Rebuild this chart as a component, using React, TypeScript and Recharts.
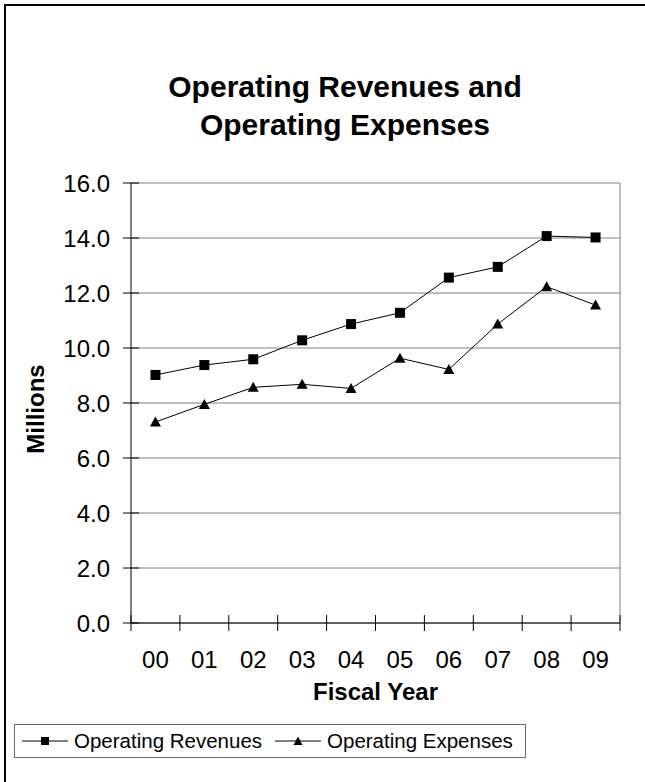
import React from 'react';
import { LineChart, Line, XAxis, YAxis, CartesianGrid, ReferenceLine, Legend } from 'recharts';

const years = ['00', '01', '02', '03', '04', '05', '06', '07', '08', '09'];
const revenues = [9.02, 9.38, 9.59, 10.28, 10.87, 11.28, 12.56, 12.95, 14.07, 14.02];
const expenses = [7.31, 7.95, 8.57, 8.68, 8.53, 9.63, 9.22, 10.87, 12.23, 11.56];
const yTicks = [0, 2, 4, 6, 8, 10, 12, 14, 16];

const FONT = 'Arial, "Liberation Sans", Helvetica, sans-serif';

// x sits in the middle of each category slot so tick marks can go on the slot edges
const data = years.map((year, i) => ({ x: i + 0.5, year, rev: revenues[i], exp: expenses[i] }));
const xTicks: number[] = [];
for (let i = 0; i <= years.length; i++) {
  xTicks.push(i);
  if (i < years.length) xTicks.push(i + 0.5);
}

const Square = (props: any) => {
  const { cx, cy, key } = props;
  if (cx == null || cy == null) return <g key={key} />;
  return <rect key={key} x={cx - 5} y={cy - 5} width={10} height={10} fill="#000" />;
};

const Triangle = (props: any) => {
  const { cx, cy, key } = props;
  if (cx == null || cy == null) return <g key={key} />;
  return <path key={key} d={`M${cx},${cy - 5.5} L${cx + 5.5},${cy + 4.5} L${cx - 5.5},${cy + 4.5} Z`} fill="#000" />;
};

const XTick = (props: any) => {
  const { x, y, payload } = props;
  const v = payload.value;
  if (Number.isInteger(v)) {
    return <line x1={x} x2={x} y1={y - 8} y2={y + 8} stroke="#000" strokeWidth={1} />;
  }
  return (
    <text x={x} y={y + 45} textAnchor="middle" fontSize={24} fontFamily={FONT} fill="#000">
      {years[Math.floor(v)]}
    </text>
  );
};

const YTick = (props: any) => {
  const { x, y, payload } = props;
  return (
    <g>
      <line x1={x - 8} x2={x + 8} y1={y} y2={y} stroke="#000" strokeWidth={1} />
      <text x={x - 21} y={y + 8.5} textAnchor="end" fontSize={24} fontFamily={FONT} fill="#000">
        {payload.value.toFixed(1)}
      </text>
    </g>
  );
};

const series = [
  { name: 'Operating Revenues', marker: 'square' },
  { name: 'Operating Expenses', marker: 'triangle' },
];

const LegendBox = () => (
  <div
    style={{
      display: 'inline-flex',
      alignItems: 'center',
      border: '1px solid #6b6b6b',
      height: 32,
      paddingLeft: 7,
      paddingRight: 12,
      background: '#fff',
      fontFamily: FONT,
      fontSize: 20.5,
      color: '#000',
      whiteSpace: 'nowrap',
    }}
  >
    {series.map((s, i) => (
      <div key={s.name} style={{ display: 'flex', alignItems: 'center', marginLeft: i === 0 ? 0 : 13 }}>
        <svg width={46} height={14} style={{ marginRight: 6 }}>
          <line x1={0} x2={46} y1={7} y2={7} stroke="#000" strokeWidth={1} />
          {s.marker === 'square' ? (
            <rect x={19} y={3} width={8} height={8} fill="#000" />
          ) : (
            <path d="M23,2.5 L27.5,11 L18.5,11 Z" fill="#000" />
          )}
        </svg>
        <span style={{ lineHeight: '32px' }}>{s.name}</span>
      </div>
    ))}
  </div>
);

const App: React.FC = () => {
  return (
    <div style={{ position: 'absolute', left: 0, top: 0, width: 645, height: 782, overflow: 'hidden', background: '#fff' }}>
      <div
        style={{
          position: 'absolute',
          left: 4,
          top: 4,
          width: 700,
          height: 900,
          borderTop: '2px solid #000',
          borderLeft: '2px solid #000',
        }}
      />
      <div
        style={{
          position: 'absolute',
          left: 0,
          top: 68,
          width: 690,
          textAlign: 'center',
          fontFamily: FONT,
          fontWeight: 'bold',
          fontSize: 30,
          lineHeight: '38px',
          color: '#000',
        }}
      >
        Operating Revenues and
        <br />
        Operating Expenses
      </div>
      <div style={{ position: 'absolute', left: 0, top: 0 }}>
        <LineChart width={645} height={782} data={data} margin={{ top: 183, right: 25, bottom: 0, left: 0 }}>
          <CartesianGrid vertical={false} stroke="#808080" strokeWidth={1} />
          <ReferenceLine x={years.length} stroke="#808080" strokeWidth={1} />
          <XAxis
            type="number"
            dataKey="x"
            domain={[0, years.length]}
            ticks={xTicks}
            interval={0}
            height={159}
            tickSize={0}
            tickMargin={0}
            tick={<XTick />}
            axisLine={{ stroke: '#000', strokeWidth: 1 }}
            label={(p: any) => {
              const vb = p.viewBox;
              return (
                <text
                  x={vb.x + vb.width / 2}
                  y={700}
                  textAnchor="middle"
                  fontSize={24}
                  fontWeight="bold"
                  fontFamily={FONT}
                  fill="#000"
                >
                  Fiscal Year
                </text>
              );
            }}
          />
          <YAxis
            domain={[0, 16]}
            ticks={yTicks}
            interval={0}
            width={131}
            tickSize={0}
            tickMargin={0}
            tick={<YTick />}
            axisLine={{ stroke: '#000', strokeWidth: 1 }}
            label={() => (
              <text
                x={44}
                y={409}
                transform="rotate(-90 44 409)"
                textAnchor="middle"
                fontSize={24}
                fontWeight="bold"
                fontFamily={FONT}
                fill="#000"
              >
                Millions
              </text>
            )}
          />
          <Legend
            layout="vertical"
            align="center"
            verticalAlign="middle"
            wrapperStyle={{ left: 14, top: 724, width: 'auto' }}
            content={<LegendBox />}
          />
          <Line
            dataKey="rev"
            name="Operating Revenues"
            stroke="#000"
            strokeWidth={1}
            dot={Square}
            activeDot={false}
            isAnimationActive={false}
          />
          <Line
            dataKey="exp"
            name="Operating Expenses"
            stroke="#000"
            strokeWidth={1}
            dot={Triangle}
            activeDot={false}
            isAnimationActive={false}
          />
        </LineChart>
      </div>
    </div>
  );
};

export default App;
